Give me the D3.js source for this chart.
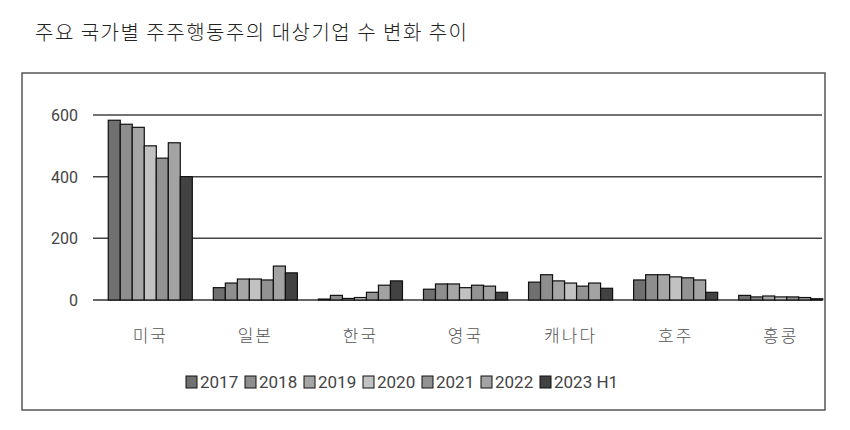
<!DOCTYPE html>
<html><head><meta charset="utf-8">
<script src="https://cdn.jsdelivr.net/npm/d3@7"></script>
<style>body{margin:0;background:#fff;font-family:"Noto Sans CJK KR","Noto Sans",sans-serif}</style>
</head><body>
<script>
var countries = ["미국","일본","한국","영국","캐나다","호주","홍콩"];
var years = ["2017","2018","2019","2020","2021","2022","2023 H1"];
var colors = ["#707070","#8e8e8e","#a6a6a6","#c2c2c2","#929292","#a3a3a3","#424242"];
var values = [
  [583,570,560,500,460,510,400],
  [40,55,68,68,65,110,88],
  [3,15,5,8,25,48,62],
  [35,52,52,40,48,45,25],
  [58,82,62,55,45,55,38],
  [65,82,82,75,72,65,25],
  [15,10,13,10,10,8,4]
];
var ticks = [0,200,400,600];

var svg = d3.select("body").append("svg").attr("width",850).attr("height",430);
svg.append("text").attr("x",35).attr("y",40).attr("font-size",20).attr("font-weight",300)
  .attr("letter-spacing",1.5).attr("fill","#222")
  .text("주요 국가별 주주행동주의 대상기업 수 변화 추이");
svg.append("rect").attr("x",22).attr("y",73).attr("width",803).attr("height",337)
  .attr("fill","none").attr("stroke","#555").attr("stroke-width",1.5);

var x0 = d3.scaleBand().domain(countries).range([97,822]).paddingInner(0.2).paddingOuter(0.05);
var x1 = d3.scaleBand().domain(years).range([0,x0.bandwidth()]);
var y = d3.scaleLinear().domain([0,600]).range([300,115]);

svg.selectAll(".grid").data(ticks).enter().append("line")
  .attr("x1",93).attr("x2",822).attr("y1",function(d){return y(d);}).attr("y2",function(d){return y(d);})
  .attr("stroke",function(d){return d==0?"#333":"#444";}).attr("stroke-width",1.5);
svg.selectAll(".yt").data(ticks).enter().append("text")
  .attr("x",78).attr("y",function(d){return y(d)+6;}).attr("text-anchor","end")
  .attr("font-size",16).attr("fill","#444").attr("font-family","Roboto,sans-serif").text(function(d){return d;});

var g = svg.selectAll(".grp").data(values).enter().append("g")
  .attr("transform",function(d,i){return "translate("+(x0(countries[i])+6)+",0)";});
g.selectAll("rect").data(function(d){return d;}).enter().append("rect")
  .attr("x",function(d,j){return x1(years[j]);}).attr("width",x1.bandwidth())
  .attr("y",function(d){return y(d);}).attr("height",function(d){return y(0)-y(d);})
  .attr("fill",function(d,j){return colors[j];}).attr("stroke","#111").attr("stroke-width",1.2);

svg.selectAll(".xt").data(countries).enter().append("text")
  .attr("x",function(d){return x0(d)+6+x0.bandwidth()/2;}).attr("y",342).attr("text-anchor","middle")
  .attr("font-size",17).attr("font-weight",300).attr("letter-spacing",2).attr("fill","#555").text(function(d){return d;});

var lx = [186,245,304,363,422,481,540];
var lg = svg.selectAll(".lg").data(years).enter().append("g")
  .attr("transform",function(d,i){return "translate("+lx[i]+",388)";});
lg.append("rect").attr("x",0).attr("y",-12).attr("width",11).attr("height",12)
  .attr("fill",function(d,i){return colors[i];}).attr("stroke","#111");
lg.append("text").attr("x",14).attr("y",0).attr("font-size",17).attr("fill","#444")
  .attr("font-family","Roboto,sans-serif").text(function(d){return d;});
</script>
</body></html>
